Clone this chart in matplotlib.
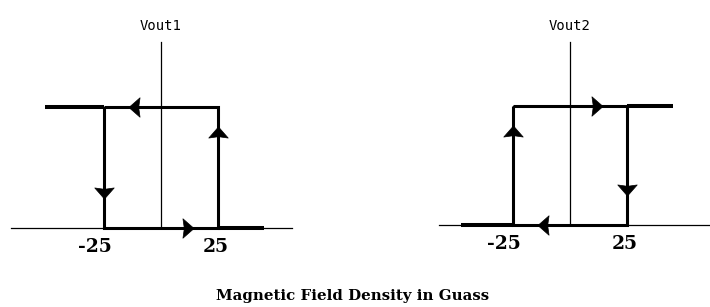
import matplotlib
matplotlib.use("Agg")
import matplotlib.pyplot as plt

# switching thresholds (gauss) and output levels
thresholds = [-25, 25]
levels = [0, 1]
tick_labels = ["-25", "25"]
panel_names = ["Vout1", "Vout2"]

# saturated tails outside the loop (gauss)
vout1_high_tail = -51
vout1_low_tail = 45
vout2_high_tail = 45
vout2_low_tail = -48

# drawn axis extents
x_axis_span = [(-66, 57.5), (-57.5, 61)]
y_axis_top = 1.54

# arrow positions along each edge (x on horizontal edges, y on vertical ones)
arrow_x = [-12, 12]
arrow_y = [0.29, 0.79]

title = "Magnetic Field Density in Guass"

W, H = 710, 307
fig = plt.figure(figsize=(W / 100, H / 100), dpi=100)


def make_axes(x0, sx, y0, sy, xlim, ylim):
    left = (x0 + sx * xlim[0]) / W
    width = sx * (xlim[1] - xlim[0]) / W
    bottom = 1 - (y0 - sy * ylim[0]) / H
    height = sy * (ylim[1] - ylim[0]) / H
    ax = fig.add_axes([left, bottom, width, height])
    ax.set_xlim(*xlim)
    ax.set_ylim(*ylim)
    ax.axis("off")
    return ax


def arrow(ax, x, y, direction):
    # slightly concave arrow head pointing left, then rotated
    pts = [(-4, 0), (4, 7), (3, 0), (4, -7), (-4, 0)]
    if direction == "right":
        pts = [(-px, py) for px, py in pts]
    elif direction == "up":
        pts = [(py, -px) for px, py in pts]
    elif direction == "down":
        pts = [(py, px) for px, py in pts]
    ax.plot([x], [y], marker=pts, markersize=14, color="black",
            markeredgewidth=0.5, clip_on=False, zorder=5)


lo, hi = thresholds
bot, top = levels
loop_lw = 2.2
tail_lw = 2.9
kw = dict(color="black", solid_joinstyle="miter", solid_capstyle="butt", clip_on=False)

axes = [make_axes(161, 2.28, 228, 121, (-70, 65), (-0.3, 1.85)),
        make_axes(570, 2.28, 225, 119, (-60, 61), (-0.3, 1.85))]

for i, ax in enumerate(axes):
    # axes lines
    ax.plot(x_axis_span[i], [0, 0], color="black", lw=0.9, clip_on=False)
    ax.plot([0, 0], [0, y_axis_top], color="black", lw=0.9, clip_on=False)
    # hysteresis loop
    ax.plot([lo, hi, hi, lo, lo], [top, top, bot, bot, top], lw=loop_lw, **kw)
    ax.text(0, 1.67, panel_names[i], ha="center", va="center",
            family="DejaVu Sans Mono", fontsize=10)
    for t, lab in zip(thresholds, tick_labels):
        off = -9 if t < 0 else -2
        ax.annotate(lab, (t, -0.16), xytext=(off * 0.72, 0), textcoords="offset points",
                    ha="center", va="center", family="DejaVu Serif",
                    fontweight="bold", fontsize=13.5)

ax1, ax2 = axes
ax1.plot([vout1_high_tail, lo], [top, top], lw=tail_lw, **kw)
ax1.plot([hi, vout1_low_tail], [bot, bot], lw=tail_lw, **kw)
arrow(ax1, arrow_x[0], top, "left")
arrow(ax1, arrow_x[1], bot, "right")
arrow(ax1, lo, arrow_y[0], "down")
arrow(ax1, hi, arrow_y[1], "up")

ax2.plot([hi, vout2_high_tail], [top, top], lw=tail_lw, **kw)
ax2.plot([vout2_low_tail, lo], [bot, bot], lw=tail_lw, **kw)
arrow(ax2, arrow_x[1], top, "right")
arrow(ax2, arrow_x[0], bot, "left")
arrow(ax2, lo, arrow_y[1], "up")
arrow(ax2, hi, arrow_y[0], "down")

fig.text(353 / W, 1 - 296 / H, title, ha="center", va="center",
         family="DejaVu Serif", fontweight="bold", fontsize=10.8)

fig.savefig("out.png", dpi=100)
